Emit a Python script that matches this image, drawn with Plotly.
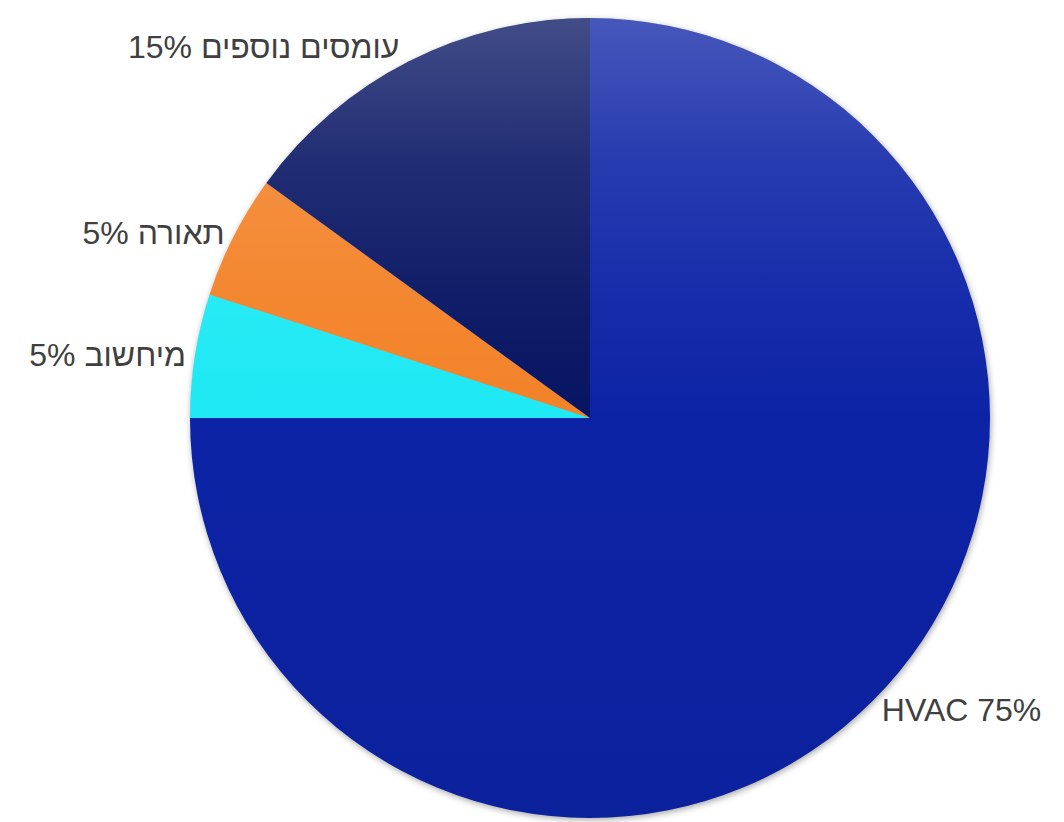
import base64
import plotly.graph_objects as go

labels = ["HVAC", "מיחשוב", "תאורה", "עומסים נוספים"]
values = [75, 5, 5, 15]
colors = ["#0c23a6", "#1ee9f4", "#f38228", "#061462"]

# decorative overlays: vertical sheen over the disk and a soft drop shadow
sheen_svg = (
    "<svg xmlns='http://www.w3.org/2000/svg' width='800' height='800' viewBox='0 0 800 800'>"
    "<defs><linearGradient id='g' x1='0' y1='0' x2='0' y2='1'>"
    "<stop offset='0' stop-color='#ffffff' stop-opacity='0.24'/>"
    "<stop offset='0.18' stop-color='#ffffff' stop-opacity='0.11'/>"
    "<stop offset='0.35' stop-color='#ffffff' stop-opacity='0.04'/>"
    "<stop offset='0.5' stop-color='#ffffff' stop-opacity='0'/>"
    "<stop offset='0.5' stop-color='#000000' stop-opacity='0'/>"
    "<stop offset='1' stop-color='#000000' stop-opacity='0.06'/>"
    "</linearGradient></defs>"
    "<circle cx='400' cy='400' r='400' fill='url(#g)'/></svg>"
)
shadow_svg = (
    "<svg xmlns='http://www.w3.org/2000/svg' width='880' height='880' viewBox='0 0 880 880'>"
    "<defs><filter id='b' x='-10%' y='-10%' width='120%' height='120%'>"
    "<feGaussianBlur stdDeviation='3'/></filter></defs>"
    "<circle cx='441' cy='442' r='400' fill='#000000' fill-opacity='0.35' filter='url(#b)'/></svg>"
)


def data_uri(svg):
    return "data:image/svg+xml;base64," + base64.b64encode(svg.encode("utf-8")).decode("ascii")


fig = go.Figure(
    go.Pie(
        labels=labels,
        values=values,
        sort=False,
        direction="clockwise",
        rotation=0,
        marker=dict(colors=colors, line=dict(width=0)),
        textposition="outside",
        texttemplate="%{label} %{value}%",
        textfont=dict(family="Liberation Sans, Arial, sans-serif", size=32, color="#404040"),
        hoverinfo="label+percent",
        showlegend=False,
    )
)

fig.update_layout(
    width=1056,
    height=814,
    margin=dict(l=182, r=74, t=10, b=4),
    paper_bgcolor="white",
    plot_bgcolor="white",
    images=[
        dict(
            source=data_uri(shadow_svg),
            xref="paper", yref="paper",
            x=-0.05, y=1.05, sizex=1.1, sizey=1.1,
            xanchor="left", yanchor="top",
            sizing="stretch", layer="below",
        ),
        dict(
            source=data_uri(sheen_svg),
            xref="paper", yref="paper",
            x=0, y=1, sizex=1, sizey=1,
            xanchor="left", yanchor="top",
            sizing="stretch", layer="above",
        ),
    ],
)

fig.write_html("out.html")
